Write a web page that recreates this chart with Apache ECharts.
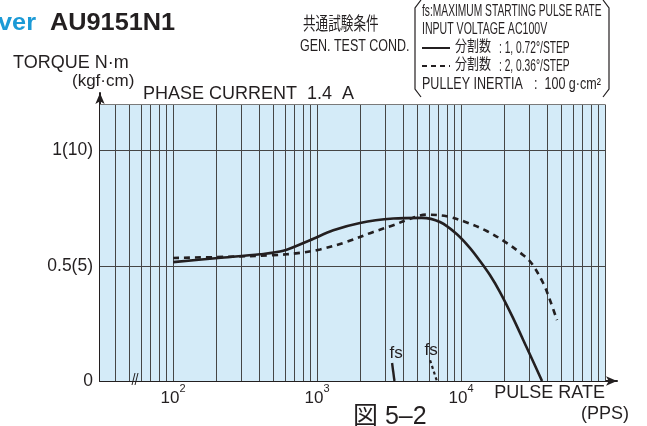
<!DOCTYPE html>
<html><head><meta charset="utf-8">
<script src="https://cdn.jsdelivr.net/npm/echarts@6/dist/echarts.min.js"></script>
<style>html,body{margin:0;padding:0;background:#fff}#c{width:647px;height:426px}</style>
</head><body><div id="c"></div>
<script>
// ---- data ----
const pulseSolid  = [100, 206, 402, 583, 893, 1297, 1990, 3390, 5340, 7145, 9330, 11550, 13550, 15880, 18650, 22960, 28700, 36530];
const torqueSolid = [0.516, 0.534, 0.550, 0.565, 0.611, 0.654, 0.686, 0.705, 0.708, 0.690, 0.638, 0.577, 0.521, 0.460, 0.386, 0.274, 0.143, 0];
const pulseDashed  = [100, 236, 498, 762, 1049, 1607, 2460, 3390, 4290, 5780, 7960, 10960, 15080, 20220, 27100, 30970, 37340, 41500, 46400];
const torqueDashed = [0.534, 0.539, 0.546, 0.556, 0.571, 0.604, 0.647, 0.676, 0.701, 0.722, 0.715, 0.688, 0.651, 0.604, 0.546, 0.510, 0.423, 0.351, 0.264];
const fsSolidPulse = [3320, 3450];
const fsSolidTorque = [0.078, 0];
const fsDashedPulse = [6100, 6800];
const fsDashedTorque = [0.09, 0];
const xGridValues = [40, 50, 60, 70, 80, 90, 100, 200, 300, 400, 500, 600, 700, 800, 900,
  1000, 2000, 3000, 4000, 5000, 6000, 7000, 8000, 9000,
  10000, 20000, 30000, 40000, 50000, 60000, 70000, 80000, 90000, 100000];
const yGridValues = [0.5, 1.0];
const xLabelExponents = [2, 3, 4];
const yTickLabels = ['0', '0.5(5)', '1(10)'];
const yTickValues = [0, 0.5, 1.0];
const xMin = 31.1, xEnd = 100000, xAxisMax = 121150;
const yTop = 1.2, yAxisMax = 1.25;

// ---- styles ----
const FONT = '"Liberation Sans", Arial, "Noto Sans CJK JP", sans-serif';
const CJK = '"Noto Sans CJK JP", sans-serif';
const INK = '#231f20';
const chart = echarts.init(document.getElementById('c'), null, {renderer: 'canvas'});

function txt(text, x, y, size, opts) {
  opts = opts || {};
  return {
    type: 'text', x: x, y: y, scaleX: opts.sx || 1, z: 10,
    style: {
      text: text, fill: opts.fill || INK,
      font: (opts.bold ? 'bold ' : '') + size + 'px ' + (opts.family || FONT),
      textAlign: opts.align || 'left', align: opts.align || 'left',
      textVerticalAlign: 'top', verticalAlign: 'top'
    }
  };
}

const graphics = [
  txt('ver', -2, 12, 23, {bold: true, fill: '#1b9ad6', sx: 1.1}),
  txt('AU9151N1', 50, 12, 23, {bold: true, sx: 1.1}),
  txt('TORQUE N·m', 13, 54, 18),
  txt('(kgf·cm)', 72, 73, 17),
  txt('PHASE CURRENT  1.4  A', 143, 85, 18),
  txt('共通試験条件', 303, 14, 18, {sx: 0.7, family: CJK}),
  txt('GEN. TEST COND.', 300, 39, 16, {sx: 0.78}),
  txt('fs:MAXIMUM STARTING PULSE RATE', 422, 3, 16.5, {sx: 0.62}),
  txt('INPUT VOLTAGE AC100V', 422, 21, 16.5, {sx: 0.64}),
  txt('分割数', 455, 38, 15, {sx: 0.8, family: CJK}),
  txt(': 1, 0.72°/STEP', 499, 40, 16.5, {sx: 0.62}),
  txt('分割数', 455, 56, 15, {sx: 0.8, family: CJK}),
  txt(': 2, 0.36°/STEP', 499, 58, 16.5, {sx: 0.62}),
  txt('PULLEY INERTIA', 422, 76, 16.5, {sx: 0.76}),
  txt(':  100 g·cm²', 534, 76, 16.5, {sx: 0.76}),
  txt('PULSE RATE', 605, 384, 18, {align: 'right'}),
  txt('(PPS)', 629, 405, 18, {align: 'right'}),
  txt('図 5–2', 353, 405, 25, {family: '"Liberation Sans", "Noto Sans CJK JP", sans-serif'}),
  {type: 'line', z: 10, shape: {x1: 422, y1: 48, x2: 450, y2: 48}, style: {stroke: INK, lineWidth: 2}},
  {type: 'line', z: 10, shape: {x1: 422, y1: 66, x2: 450, y2: 66}, style: {stroke: INK, lineWidth: 2, lineDash: [5, 4]}},
  {type: 'polyline', z: 10, shape: {points: [[421, 0], [415, 8], [415, 89], [421, 97]]}, style: {stroke: INK, lineWidth: 1.2, fill: null}},
  {type: 'polyline', z: 10, shape: {points: [[603, 0], [609, 8], [609, 89], [603, 97]]}, style: {stroke: INK, lineWidth: 1.2, fill: null}},
  {type: 'line', z: 10, shape: {x1: 132, y1: 385, x2: 135, y2: 373}, style: {stroke: INK, lineWidth: 1}},
  {type: 'line', z: 10, shape: {x1: 135, y1: 385, x2: 138, y2: 373}, style: {stroke: INK, lineWidth: 1}}
];

const pairsOf = (xs, ys) => xs.map((x, i) => [x, ys[i]]);

const gridLines = xGridValues.map(v => [{coord: [v, 0]}, {coord: [v, yTop]}])
  .concat(yGridValues.map(v => [{coord: [xMin, v]}, {coord: [xEnd, v]}]))
  .concat([[{coord: [xMin, yTop], lineStyle: {color: '#7a7a7a'}}, {coord: [xEnd, yTop]}]]);

const fsLabel = (dx) => ({show: true, position: 'top', formatter: 'fs', fontSize: 17, color: INK, fontFamily: FONT, distance: 1, offset: [dx, 0]});

const option = {
  animation: false,
  backgroundColor: '#ffffff',
  textStyle: {fontFamily: FONT},
  grid: {left: 100, top: 93, width: 517, height: 288, show: false, containLabel: false},
  xAxis: {
    type: 'log', logBase: 10, min: xMin, max: xAxisMax,
    axisLine: {show: true, lineStyle: {color: INK, width: 2}, symbol: ['none', 'arrow'], symbolSize: [7, 11]},
    axisTick: {show: false},
    splitLine: {show: false},
    minorSplitLine: {show: false},
    axisLabel: {
      show: true, margin: 2, color: INK, showMinLabel: true, showMaxLabel: true,
      formatter: function (v) {
        const e = Math.round(Math.log10(v));
        if (Math.abs(Math.log10(v) - e) < 1e-6 && xLabelExponents.indexOf(e) >= 0) return '{b|10}{s|' + e + '}';
        return '';
      },
      rich: {
        b: {fontSize: 17, lineHeight: 24, verticalAlign: 'bottom', fontFamily: FONT, color: INK},
        s: {fontSize: 11, lineHeight: 12, verticalAlign: 'top', fontFamily: FONT, color: INK}
      }
    }
  },
  yAxis: {
    type: 'value', min: 0, max: yAxisMax, interval: 0.5,
    axisLine: {show: true, lineStyle: {color: INK, width: 2}, symbol: ['none', 'arrow'], symbolSize: [7, 11]},
    axisTick: {show: false},
    splitLine: {show: false},
    axisLabel: {
      show: true, margin: 7, color: INK, fontSize: 17.5, fontFamily: FONT,
      formatter: function (v) {
        const i = yTickValues.findIndex(t => Math.abs(t - v) < 1e-9);
        return i >= 0 ? yTickLabels[i] : '';
      }
    }
  },
  graphic: graphics,
  series: [
    {
      type: 'line', data: [], z: 0, silent: true,
      markArea: {silent: true, itemStyle: {color: '#d4ebf8'}, data: [[{coord: [xMin, 0]}, {coord: [xEnd, yTop]}]]}
    },
    {
      type: 'line', data: [], z: 1, silent: true,
      markLine: {silent: true, symbol: ['none', 'none'], label: {show: false},
        lineStyle: {color: '#454545', width: 1, type: 'solid'}, emphasis: {disabled: true}, data: gridLines}
    },
    {
      name: 'solid', type: 'line', z: 5, smooth: 0.3, showSymbol: false, symbol: 'none',
      lineStyle: {color: INK, width: 2.6}, data: pairsOf(pulseSolid, torqueSolid)
    },
    {
      name: 'dashed', type: 'line', z: 5, smooth: 0.35, showSymbol: false, symbol: 'none',
      lineStyle: {color: INK, width: 2.6, type: [6, 5]}, data: pairsOf(pulseDashed, torqueDashed)
    },
    {
      name: 'fsSolid', type: 'line', z: 5, symbol: 'none',
      lineStyle: {color: INK, width: 2.4},
      data: pairsOf(fsSolidPulse, fsSolidTorque).map((p, i) => i === 0 ? {value: p, symbol: 'circle', symbolSize: 0.1, label: fsLabel(4)} : p)
    },
    {
      name: 'fsDashed', type: 'line', z: 5, symbol: 'none',
      lineStyle: {color: INK, width: 2.2, type: [3, 3]},
      data: pairsOf(fsDashedPulse, fsDashedTorque).map((p, i) => i === 0 ? {value: p, symbol: 'circle', symbolSize: 0.1, label: fsLabel(1)} : p)
    }
  ]
};
chart.setOption(option);
</script></body></html>
